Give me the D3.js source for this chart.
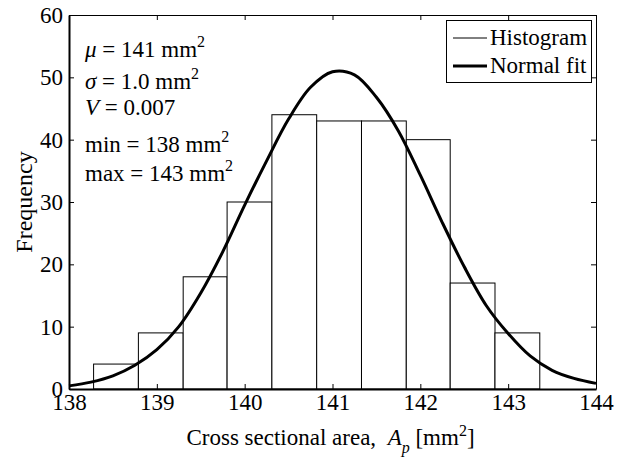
<!DOCTYPE html>
<html>
<head>
<meta charset="utf-8">
<script src="https://cdn.jsdelivr.net/npm/d3@7"></script>
<style>
  body { margin: 0; background: #fff; }
  svg { font-family: "Liberation Serif", "Times New Roman", serif; }
</style>
</head>
<body>
<svg id="chart" width="626" height="458"></svg>
<script>
// histogram bins (edges) and counts
const BIN_EDGES = [138.28, 138.79, 139.30, 139.80, 140.31, 140.82, 141.33, 141.84, 142.34, 142.85, 143.36];
const COUNTS = [4, 9, 18, 30, 44, 43, 43, 40, 17, 9];

// normal fit
const FIT_X = [138, 138.25, 138.5, 138.75, 139, 139.25, 139.5, 139.75, 140, 140.25, 140.5, 140.75,
  141, 141.25, 141.5, 141.75, 142, 142.25, 142.5, 142.75, 143, 143.25, 143.5, 143.75, 144];
const FIT_Y = [0.5, 1.1, 2.1, 3.8, 6.3, 10.0, 15.4, 22.0, 29.5, 36.6, 43.3, 48.4,
  50.9, 50.4, 46.8, 41.4, 34.3, 26.7, 19.6, 13.4, 8.9, 5.3, 3.0, 1.7, 0.9];

const X_TICKS = [138, 139, 140, 141, 142, 143, 144];
const Y_TICKS = [0, 10, 20, 30, 40, 50, 60];

// annotation lines: [italic symbol, rest, superscript]
const STATS = [
  ["\u03bc", " = 141 mm", "2"],
  ["\u03c3", " = 1.0 mm", "2"],
  ["V", " = 0.007", ""],
  ["", "min = 138 mm", "2"],
  ["", "max = 143 mm", "2"],
];
const STAT_Y = [57, 89, 115, 152, 181];

const LEGEND = ["Histogram", "Normal fit"];

const MARGIN = { top: 15, right: 30, bottom: 69, left: 69 };
const W = 626, H = 458;
const FONT = 23;

const svg = d3.select("#chart");
const width = W - MARGIN.left - MARGIN.right;
const height = H - MARGIN.top - MARGIN.bottom;

const x = d3.scaleLinear().domain([138, 144]).range([MARGIN.left, MARGIN.left + width]);
const y = d3.scaleLinear().domain([0, 60]).range([MARGIN.top + height, MARGIN.top]);

// bars
const bins = COUNTS.map((c, i) => ({ x0: BIN_EDGES[i], x1: BIN_EDGES[i + 1], count: c }));
svg.append("g")
  .selectAll("rect")
  .data(bins)
  .join("rect")
  .attr("x", (d) => x(d.x0))
  .attr("y", (d) => y(d.count))
  .attr("width", (d) => x(d.x1) - x(d.x0))
  .attr("height", (d) => y(0) - y(d.count))
  .attr("fill", "#fff")
  .attr("stroke", "#000")
  .attr("stroke-width", 1);

// fit curve
const line = d3.line()
  .curve(d3.curveCatmullRom)
  .x((d) => x(d[0]))
  .y((d) => y(d[1]));
svg.append("path")
  .datum(d3.zip(FIT_X, FIT_Y))
  .attr("fill", "none")
  .attr("stroke", "#000")
  .attr("stroke-width", 3)
  .attr("stroke-linejoin", "round")
  .attr("d", line);

// axes
const axisStyle = (g, sw) => {
  g.attr("font-family", null);
  g.select(".domain").attr("stroke", "#000").attr("stroke-width", sw);
  g.selectAll(".tick line").attr("stroke", "#000");
  g.selectAll(".tick text").attr("font-size", FONT).attr("fill", "#000");
};

svg.append("g")
  .attr("transform", "translate(0," + y(0) + ")")
  .call(d3.axisBottom(x).tickValues(X_TICKS).tickFormat(d3.format("d"))
    .tickSizeInner(-5).tickSizeOuter(0).tickPadding(5))
  .call((g) => axisStyle(g, 2));

svg.append("g")
  .attr("transform", "translate(" + x(138) + ",0)")
  .call(d3.axisLeft(y).tickValues(Y_TICKS).tickFormat(d3.format("d"))
    .tickSizeInner(-5).tickSizeOuter(0).tickPadding(6))
  .call((g) => axisStyle(g, 2));

svg.append("g")
  .attr("transform", "translate(0," + y(60) + ")")
  .call(d3.axisTop(x).tickValues(X_TICKS).tickFormat("").tickSizeInner(-5).tickSizeOuter(0))
  .call((g) => axisStyle(g, 1));

svg.append("g")
  .attr("transform", "translate(" + x(144) + ",0)")
  .call(d3.axisRight(y).tickValues(Y_TICKS).tickFormat("").tickSizeInner(-5).tickSizeOuter(0))
  .call((g) => axisStyle(g, 1));

// axis titles
const xt = svg.append("text")
  .attr("x", MARGIN.left + width / 2 - 2)
  .attr("y", 445)
  .attr("text-anchor", "middle")
  .attr("font-size", FONT);
xt.append("tspan").text("Cross sectional area,\u00a0\u00a0");
xt.append("tspan").attr("font-style", "italic").text("A");
xt.append("tspan").attr("font-style", "italic").attr("font-size", 16).attr("dy", 8).text("p");
xt.append("tspan").attr("dy", -8).text("\u00a0[mm");
xt.append("tspan").attr("font-size", 16).attr("dy", -9).text("2");
xt.append("tspan").attr("dy", 9).text("]");

svg.append("text")
  .attr("transform", "translate(32," + (MARGIN.top + height / 2) + ") rotate(-90)")
  .attr("text-anchor", "middle")
  .attr("font-size", 24)
  .text("Frequency");

// stats annotation
const stats = svg.append("g");
STATS.forEach((s, i) => {
  const t = stats.append("text")
    .attr("x", 85)
    .attr("y", STAT_Y[i])
    .attr("font-size", FONT);
  if (s[0]) t.append("tspan").attr("font-style", "italic").text(s[0]);
  t.append("tspan").text(s[1]);
  if (s[2]) t.append("tspan").attr("font-size", 16).attr("dy", -10).text(s[2]);
});

// legend
const lg = svg.append("g");
lg.append("rect")
  .attr("x", 446.5).attr("y", 20.5)
  .attr("width", 145).attr("height", 62)
  .attr("fill", "#fff").attr("stroke", "#000").attr("stroke-width", 1);
const LEG_Y = [38, 66];
const LEG_W = [1, 3];
LEGEND.forEach((name, i) => {
  lg.append("line")
    .attr("x1", 453).attr("x2", 487)
    .attr("y1", LEG_Y[i]).attr("y2", LEG_Y[i])
    .attr("stroke", "#000").attr("stroke-width", LEG_W[i]);
  lg.append("text")
    .attr("x", 490).attr("y", LEG_Y[i] + 7)
    .attr("font-size", FONT)
    .text(name);
});
</script>
</body>
</html>
